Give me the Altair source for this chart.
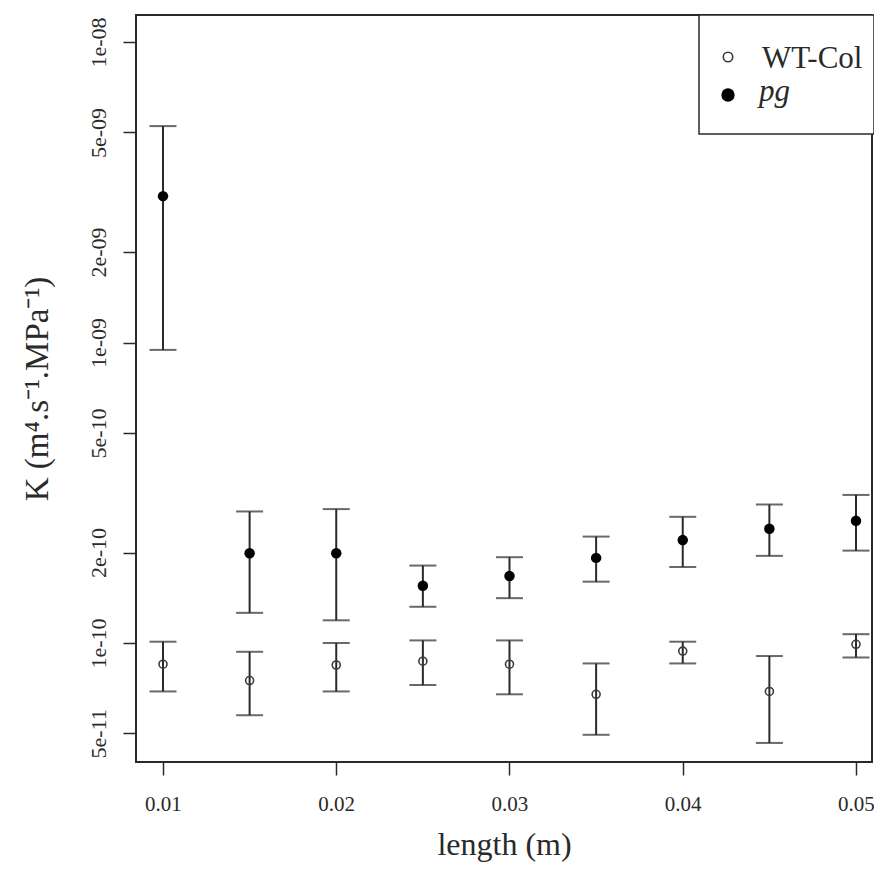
import altair as alt
import pandas as pd

# ---- data ----
lengths = [0.010, 0.015, 0.020, 0.025, 0.030, 0.035, 0.040, 0.045, 0.050]

wt_mean = [8.5e-11, 7.5e-11, 8.45e-11, 8.7e-11, 8.5e-11, 6.75e-11, 9.4e-11, 6.9e-11, 9.9e-11]
wt_low  = [6.9e-11, 5.75e-11, 6.9e-11, 7.25e-11, 6.75e-11, 4.95e-11, 8.55e-11, 4.65e-11, 8.95e-11]
wt_high = [1.01e-10, 9.35e-11, 1.0e-10, 1.02e-10, 1.02e-10, 8.55e-11, 1.01e-10, 9.05e-11, 1.07e-10]

pg_mean = [3.07e-09, 1.99e-10, 1.99e-10, 1.55e-10, 1.67e-10, 1.92e-10, 2.20e-10, 2.40e-10, 2.55e-10]
pg_low  = [9.45e-10, 1.26e-10, 1.19e-10, 1.32e-10, 1.41e-10, 1.60e-10, 1.79e-10, 1.95e-10, 2.03e-10]
pg_high = [5.25e-09, 2.74e-10, 2.79e-10, 1.81e-10, 1.93e-10, 2.26e-10, 2.63e-10, 2.89e-10, 3.11e-10]

series_names = ["WT-Col", "pg"]

x_ticks = [0.01, 0.02, 0.03, 0.04, 0.05]
y_ticks = [5e-11, 1e-10, 2e-10, 5e-10, 1e-09, 2e-09, 5e-09, 1e-08]
y_tick_labels = ["5e-11", "1e-10", "2e-10", "5e-10", "1e-09", "2e-09", "5e-09", "1e-08"]

x_domain = [0.008442, 0.050924]
y_domain = [4.018e-11, 1.23e-08]

# ---- build table ----
rows = []
for name, m, lo, hi in [(series_names[0], wt_mean, wt_low, wt_high),
                        (series_names[1], pg_mean, pg_low, pg_high)]:
    for L, a, b, c in zip(lengths, m, lo, hi):
        rows.append({"length": L, "K": a, "low": b, "high": c, "series": name})
df = pd.DataFrame(rows)

# label expression for R-style exponent labels
expr = "''"
for v, lab in zip(reversed(y_ticks), reversed(y_tick_labels)):
    expr = f"abs(datum.value - {v}) < {v}*0.01 ? '{lab}' : ({expr})"

FONT = "Liberation Serif"
INK = "#2a2a2a"
W = 736
LX = -1  # legend offset relative to plot right edge

xenc = alt.X("length:Q",
             scale=alt.Scale(domain=x_domain, nice=False, zero=False),
             axis=alt.Axis(values=x_ticks, format=".2f", title="length (m)",
                           labelFont=FONT, labelFontSize=21, labelColor=INK,
                           labelBaseline="alphabetic", labelPadding=35,
                           tickSize=13, tickWidth=1.5, tickColor=INK,
                           domain=False, grid=False,
                           titleFont=FONT, titleFontSize=32, titleFontWeight="normal",
                           titleColor=INK, titleBaseline="alphabetic", titleY=92))

yscale = alt.Scale(type="log", domain=y_domain, nice=False)
yaxis = alt.Axis(values=y_ticks, labelExpr=expr, title="K (m⁴.s⁻¹.MPa⁻¹)",
                 labelFont=FONT, labelFontSize=22, labelColor=INK,
                 labelAngle=270, labelAlign="center", labelBaseline="alphabetic",
                 labelPadding=18, tickSize=13, tickWidth=1.5, tickColor=INK,
                 domain=False, grid=False,
                 titleFont=FONT, titleFontSize=33, titleFontWeight="normal",
                 titleColor=INK, titleAngle=270, titleBaseline="alphabetic",
                 titleX=-89)

base = alt.Chart(df)

bars = base.mark_rule(color=INK, strokeWidth=2).encode(
    x=xenc,
    y=alt.Y("low:Q", scale=yscale, axis=yaxis),
    y2="high:Q",
)
cap_lo = base.mark_tick(orient="horizontal", size=27, thickness=2, color=INK).encode(
    x="length:Q", y=alt.Y("low:Q", scale=yscale))
cap_hi = base.mark_tick(orient="horizontal", size=27, thickness=2, color=INK).encode(
    x="length:Q", y=alt.Y("high:Q", scale=yscale))

wt_pts = base.transform_filter(alt.datum.series == series_names[0]).mark_point(
    shape="circle", filled=False, size=64, strokeWidth=1.6, color="#3a3a3a", opacity=1
).encode(x="length:Q", y=alt.Y("K:Q", scale=yscale))

pg_pts = base.transform_filter(alt.datum.series == series_names[1]).mark_circle(
    size=110, color="#000000", opacity=1
).encode(x="length:Q", y=alt.Y("K:Q", scale=yscale))

# ---- legend (drawn manually so "pg" can be italic) ----
leg_df = pd.DataFrame({"label": series_names})
leg_box = alt.Chart(leg_df.head(1)).mark_rect(
    fill="white", stroke=INK, strokeWidth=1.5
).encode(x=alt.value(563), x2=alt.value(W + 2), y=alt.value(0), y2=alt.value(119))
leg_wt_sym = alt.Chart(leg_df.head(1)).mark_point(
    shape="circle", filled=False, size=90, strokeWidth=1.6, color="#3a3a3a", opacity=1
).encode(x=alt.value(592), y=alt.value(42))
leg_pg_sym = alt.Chart(leg_df.head(1)).mark_circle(size=180, color="black", opacity=1).encode(
    x=alt.value(592), y=alt.value(80))
leg_wt_txt = alt.Chart(leg_df.iloc[[0]]).mark_text(
    font=FONT, fontSize=31, align="left", baseline="alphabetic", color=INK
).encode(text="label:N", x=alt.value(626), y=alt.value(53))
leg_pg_txt = alt.Chart(leg_df.iloc[[1]]).mark_text(
    font=FONT, fontSize=31, fontStyle="italic", align="left", baseline="alphabetic", color=INK
).encode(text="label:N", x=alt.value(623), y=alt.value(86))

chart = alt.layer(
    bars, cap_lo, cap_hi, wt_pts, pg_pts,
    leg_box, leg_wt_sym, leg_pg_sym, leg_wt_txt, leg_pg_txt
).properties(
    width=W, height=747,
    autosize=alt.AutoSizeParams(type="none"),
    padding={"left": 128, "top": 7, "right": 2, "bottom": 100},
    background="white",
).configure_view(stroke=INK, strokeWidth=2)

chart.save("out.html", embed_options={"renderer": "svg", "actions": False})
